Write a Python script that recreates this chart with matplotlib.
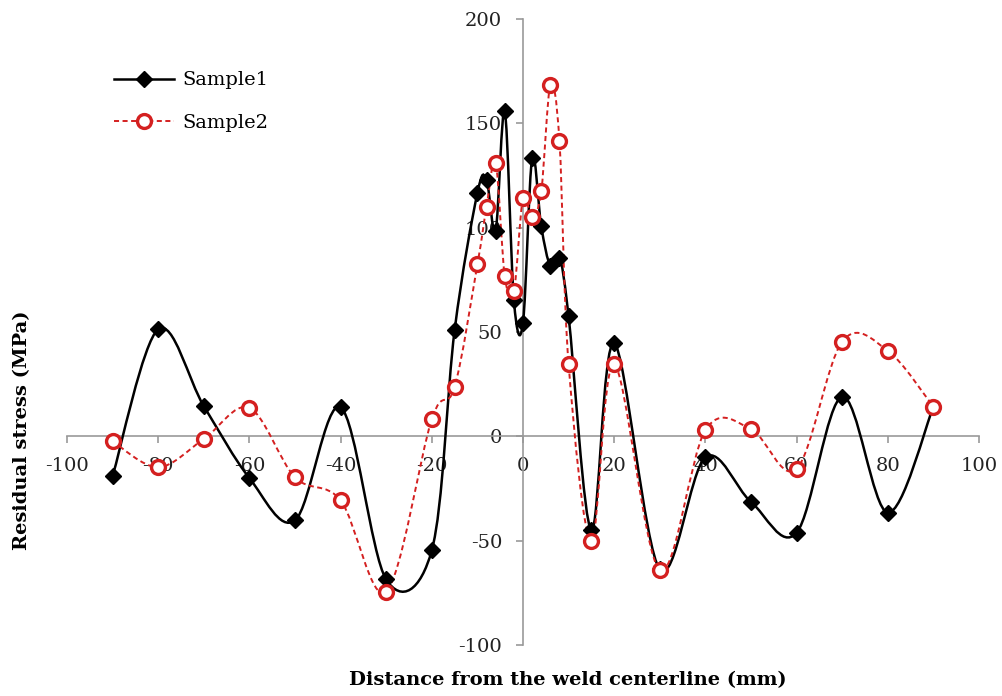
import numpy as np
import matplotlib
matplotlib.use("Agg")
import matplotlib.pyplot as plt
from matplotlib.path import Path
from matplotlib.patches import PathPatch
from matplotlib.lines import Line2D

# ---- data ----
s1_x = [-90, -80, -70, -60, -50, -40, -30, -20, -15, -10, -8, -6, -4, -2, 0, 2, 4, 6, 8, 10, 15, 20, 30, 40, 50, 60, 70, 80, 90]
s1_y = [-19, 51.3, 14.5, -20, -40.3, 13.9, -68.6, -54.6, 50.8, 116.6, 122.8, 98.6, 155.9, 65.2, 54.5, 133.3, 100.7, 81.6, 85.5, 57.5, -45, 44.6, -63.8, -10, -31.4, -46.2, 19, -36.6, 14.2]

s2_x = [-90, -80, -70, -60, -50, -40, -30, -20, -15, -10, -8, -6, -4, -2, 0, 2, 4, 6, 8, 10, 15, 20, 30, 40, 50, 60, 70, 80, 90]
s2_y = [-2.4, -14.8, -1.3, 13.6, -19.6, -30.7, -74.5, 8.3, 23.7, 82.4, 109.9, 131.2, 76.8, 69.6, 114.2, 105.1, 117.4, 168.4, 141.3, 34.6, -50.2, 34.6, -64.2, 3, 3.5, -15.6, 45.4, 41, 14.2]

series_names = ["Sample1", "Sample2"]
x_ticks = [-100, -80, -60, -40, -20, 0, 20, 40, 60, 80, 100]
y_ticks = [-100, -50, 0, 50, 100, 150, 200]

plt.rcParams['font.family'] = ['DejaVu Serif']

W, H = 1003, 696
fig = plt.figure(figsize=(W / 100, H / 100), dpi=100)
ax = fig.add_axes([67 / W, 1 - 645 / H, (979 - 67) / W, (645 - 19) / H])
ax.set_xlim(-100, 100)
ax.set_ylim(-100, 200)


def smooth_path(xs, ys):
    p = np.column_stack([xs, ys]).astype(float)
    n = len(p)
    verts = [p[0]]
    codes = [Path.MOVETO]
    for i in range(n - 1):
        p0 = p[i - 1] if i > 0 else p[i]
        p1 = p[i]
        p2 = p[i + 1]
        p3 = p[i + 2] if i + 2 < n else p[i + 1]
        c1 = p1 + (p2 - p0) / 6.0
        c2 = p2 - (p3 - p1) / 6.0
        verts += [c1, c2, p2]
        codes += [Path.CURVE4] * 3
    return Path(verts, codes)


black = "#000000"
red = "#d42020"
dash = (0, (2.6, 1.8))

ax.add_patch(PathPatch(smooth_path(s1_x, s1_y), fill=False, edgecolor=black, lw=1.8, zorder=3))
ax.add_patch(PathPatch(smooth_path(s2_x, s2_y), fill=False, edgecolor=red, lw=1.4,
                       linestyle=dash, zorder=3))

ax.plot(s1_x, s1_y, linestyle='none', marker='D', ms=8, color=black, zorder=4)
ax.plot(s2_x, s2_y, linestyle='none', marker='o', ms=10, mfc='white', mec=red, mew=2.4, zorder=5)

# axes styling
gray = "#999999"
for s in ['top', 'right']:
    ax.spines[s].set_visible(False)
ax.spines['left'].set_position(('data', 0))
ax.spines['bottom'].set_position(('data', 0))
ax.spines['left'].set_color(gray)
ax.spines['bottom'].set_color(gray)
ax.spines['left'].set_linewidth(1.2)
ax.spines['bottom'].set_linewidth(1.2)
ax.set_xticks(x_ticks)
ax.set_yticks(y_ticks)
ax.set_xticklabels([str(v) for v in x_ticks])
ax.set_yticklabels([str(v) for v in y_ticks])
ax.tick_params(axis='x', direction='out', length=5, width=1.2, color=gray, labelsize=14, pad=10, labelcolor='#222222')
ax.tick_params(axis='y', direction='out', length=5, width=1.2, color=gray, labelsize=14, pad=10, labelcolor='#222222')
ax.patch.set_visible(False)

# legend
handles = [
    Line2D([], [], color=black, lw=1.8, marker='D', ms=8),
    Line2D([], [], color=red, lw=1.4, linestyle=dash, marker='o', ms=10, mfc='white', mec=red, mew=2.4),
]
fig.legend(handles, series_names, loc='upper left', bbox_to_anchor=(96 / W, 1 - 54 / H),
           frameon=False, fontsize=14, handlelength=3.1, handletextpad=0.45, labelspacing=1.25)

fig.text(22 / W, 1 - 430 / H, "Residual stress (MPa)", rotation=90, ha='center', va='center',
         fontsize=14, fontweight='bold')
fig.text(568 / W, 1 - 680 / H, "Distance from the weld centerline (mm)", ha='center', va='center',
         fontsize=14, fontweight='bold')

fig.savefig("out.png", dpi=100)
